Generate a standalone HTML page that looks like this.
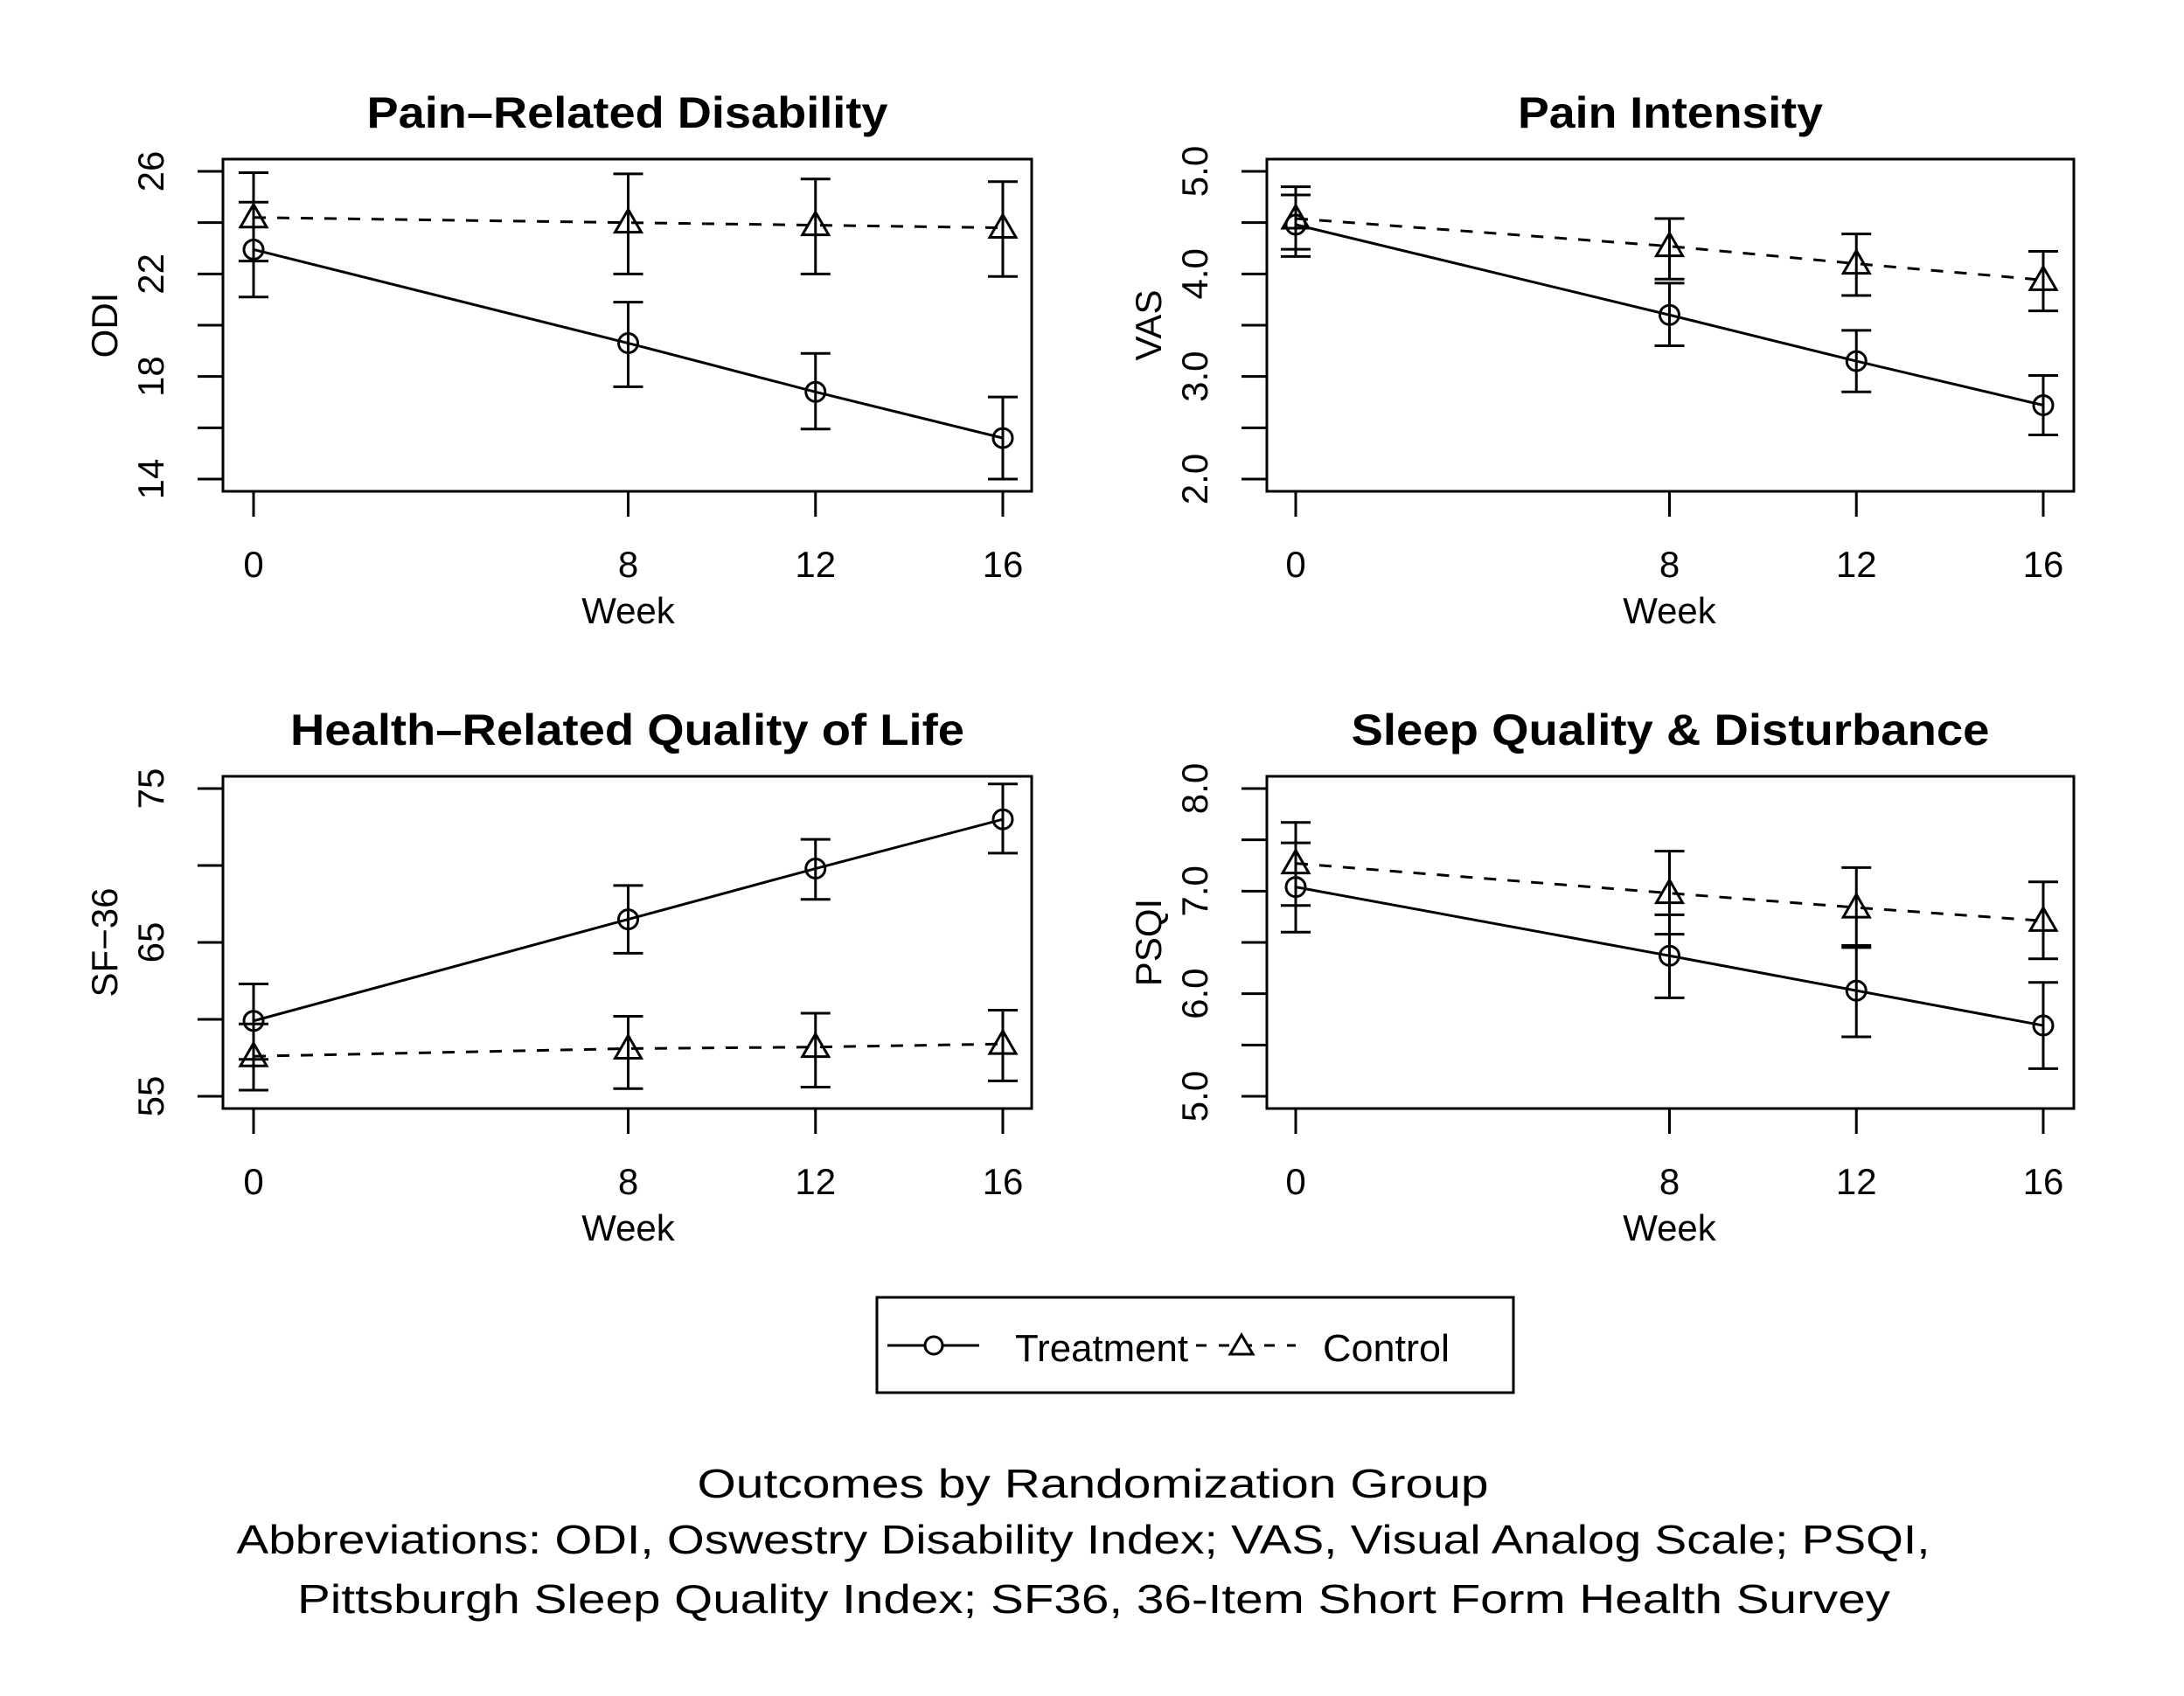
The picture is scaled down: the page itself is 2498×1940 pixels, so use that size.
<!DOCTYPE html>
<html><head><meta charset="utf-8"><style>
html,body{margin:0;padding:0;background:#fff;}
svg{display:block;}
text{font-family:"Liberation Sans",sans-serif;fill:#000;}
</style></head>
<body>
<svg id="chart" xmlns="http://www.w3.org/2000/svg" width="2498" height="1940" viewBox="0 0 2498 1940">
<rect width="2498" height="1940" fill="#fff"/>
<g id="panels"></g>
<g id="legend">
  <rect x="1003" y="1484" width="728" height="109" fill="none" stroke="#000" stroke-width="3"/>
  <line x1="1015" y1="1539" x2="1120" y2="1539" stroke="#000" stroke-width="3"/>
  <circle cx="1068" cy="1539" r="10" fill="#fff" stroke="#000" stroke-width="3"/>
  <text x="1161" y="1557" font-size="44" textLength="198" lengthAdjust="spacingAndGlyphs">Treatment</text>
  <line x1="1368" y1="1539" x2="1482" y2="1539" stroke="#000" stroke-width="3" stroke-dasharray="12,14"/>
  <path d="M1420,1527 L1433,1549 L1407,1549 Z" fill="#fff" stroke="#000" stroke-width="3"/>
  <text x="1513" y="1557" font-size="44" textLength="145" lengthAdjust="spacingAndGlyphs">Control</text>
</g>
<g>
  <text x="1250" y="1713" font-size="46" text-anchor="middle" textLength="905" lengthAdjust="spacingAndGlyphs">Outcomes by Randomization Group</text>
  <text x="1239" y="1777" font-size="46" text-anchor="middle" textLength="1937" lengthAdjust="spacingAndGlyphs">Abbreviations: ODI, Oswestry Disability Index; VAS, Visual Analog Scale; PSQI,</text>
  <text x="1251" y="1845" font-size="46" text-anchor="middle" textLength="1822" lengthAdjust="spacingAndGlyphs">Pittsburgh Sleep Quality Index; SF36, 36-Item Short Form Health Survey</text>
</g>
</svg>
<script>
const weeks = [0, 8, 12, 16];
const xTickLabels = ["0", "8", "12", "16"];
const titles = ["Pain\u2013Related Disability", "Pain Intensity", "Health\u2013Related Quality of Life", "Sleep Quality & Disturbance"];
const yLabels = ["ODI", "VAS", "SF\u221236", "PSQI"];
const odiTreatMean = [22.95, 19.3, 17.4, 15.6];
const odiTreatLo = [21.1, 17.6, 15.95, 14.0];
const odiTreatHi = [24.8, 20.9, 18.9, 17.2];
const odiCtrlMean = [24.2, 24.0, 23.9, 23.8];
const odiCtrlLo = [22.5, 22.0, 22.0, 21.9];
const odiCtrlHi = [25.95, 25.9, 25.7, 25.6];
const vasTreatMean = [4.48, 3.60, 3.15, 2.72];
const vasTreatLo = [4.24, 3.30, 2.85, 2.43];
const vasTreatHi = [4.77, 3.91, 3.45, 3.01];
const vasCtrlMean = [4.54, 4.27, 4.10, 3.94];
const vasCtrlLo = [4.17, 3.95, 3.79, 3.64];
const vasCtrlHi = [4.85, 4.54, 4.39, 4.22];
const sfTreatMean = [59.9, 66.5, 69.8, 73.0];
const sfTreatLo = [57.4, 64.3, 67.8, 70.8];
const sfTreatHi = [62.3, 68.7, 71.7, 75.3];
const sfCtrlMean = [57.6, 58.1, 58.2, 58.4];
const sfCtrlLo = [55.4, 55.5, 55.6, 56.0];
const sfCtrlHi = [59.7, 60.2, 60.4, 60.6];
const psqiTreatMean = [7.04, 6.37, 6.03, 5.69];
const psqiTreatLo = [6.60, 5.96, 5.58, 5.27];
const psqiTreatHi = [7.47, 6.77, 6.47, 6.11];
const psqiCtrlMean = [7.27, 6.98, 6.84, 6.71];
const psqiCtrlLo = [6.86, 6.58, 6.45, 6.34];
const psqiCtrlHi = [7.67, 7.39, 7.23, 7.09];
const yDomains = [[14, 26], [2, 5], [55, 75], [5, 8]];
const yTicks = [[14,16,18,20,22,24,26],[2,2.5,3,3.5,4,4.5,5],[55,60,65,70,75],[5,5.5,6,6.5,7,7.5,8]];
const yTickLabels = [["14","","18","","22","","26"],["2.0","","3.0","","4.0","","5.0"],["55","","65","","75"],["5.0","","6.0","","7.0","","8.0"]];

const series = [
  [[odiTreatMean,odiTreatLo,odiTreatHi],[odiCtrlMean,odiCtrlLo,odiCtrlHi]],
  [[vasTreatMean,vasTreatLo,vasTreatHi],[vasCtrlMean,vasCtrlLo,vasCtrlHi]],
  [[sfTreatMean,sfTreatLo,sfTreatHi],[sfCtrlMean,sfCtrlLo,sfCtrlHi]],
  [[psqiTreatMean,psqiTreatLo,psqiTreatHi],[psqiCtrlMean,psqiCtrlLo,psqiCtrlHi]]
];
const titleWidths = [596, 349, 771, 730];
const NS = "http://www.w3.org/2000/svg";
const root = document.getElementById("panels");
function mk(tag, attrs, parent) {
  const e = document.createElementNS(NS, tag);
  for (const k in attrs) e.setAttribute(k, attrs[k]);
  parent.appendChild(e);
  return e;
}
const slugs = ["odi", "vas", "sf36", "psqi"];
for (let p = 0; p < 4; p++) {
  const col = p % 2, row = Math.floor(p / 2);
  const L = col ? 1449 : 255, R = col ? 2372 : 1180;
  const x0 = col ? 1482 : 290, x16 = col ? 2337 : 1147;
  const off = row * 706;
  const T = 182 + off, B = 562 + off;
  const yT = 196 + off, yB = 548 + off;
  const [d0, d1] = yDomains[p];
  const xs = w => x0 + (w - weeks[0]) / (weeks[weeks.length-1] - weeks[0]) * (x16 - x0);
  const ys = v => yB - (v - d0) / (d1 - d0) * (yB - yT);
  const g = mk("g", {}, root);
  
  
  const cx = (L + R) / 2;
  const t = mk("text", {x: cx, y: 146 + off, "font-size": 50, "font-weight": "bold", "text-anchor": "middle", textLength: titleWidths[p], lengthAdjust: "spacingAndGlyphs"}, g);
  t.textContent = titles[p];
  
  
  const fr = mk("rect", {x: L, y: T, width: R - L, height: B - T, fill: "none", stroke: "#000", "stroke-width": 3}, g);
  
  
  // y ticks
  yTicks[p].forEach((v, i) => {
    const yy = ys(v);
    const tk = mk("line", {x1: L - 29, x2: L, y1: yy, y2: yy, stroke: "#000", "stroke-width": 3}, g);
    
    
    if (yTickLabels[p][i]) {
      const tl = mk("text", {x: 0, y: 0, "font-size": 42, "text-anchor": "middle", transform: `translate(${L - 68},${yy}) rotate(-90)`}, g);
      tl.textContent = yTickLabels[p][i];
      
      
    }
  });
  const yl = mk("text", {x: 0, y: 0, "font-size": 42, "text-anchor": "middle", transform: `translate(${L - 121},${(T + B) / 2}) rotate(-90)`}, g);
  yl.textContent = yLabels[p];
  
  
  // x ticks
  weeks.forEach((w, i) => {
    const xx = xs(w);
    const tk = mk("line", {x1: xx, x2: xx, y1: B, y2: B + 29, stroke: "#000", "stroke-width": 3}, g);
    
    
    const tl = mk("text", {x: xx, y: 660 + off, "font-size": 42, "text-anchor": "middle"}, g);
    tl.textContent = xTickLabels[i];
    
    
  });
  const xl = mk("text", {x: (x0 + x16) / 2, y: 713 + off, "font-size": 42, "text-anchor": "middle"}, g);
  xl.textContent = "Week";
  
  
  // series
  series[p].forEach((s, si) => {
    const [mean, lo, hi] = s;
    const sg = mk("g", {}, g);
    
    
    const pts = weeks.map((w, i) => xs(w) + "," + ys(mean[i])).join(" ");
    const pl = mk("polyline", {points: pts, fill: "none", stroke: "#000", "stroke-width": 3}, sg);
    if (si === 1) pl.setAttribute("stroke-dasharray", "14,13");
    
    
    weeks.forEach((w, i) => {
      const xx = xs(w), yl2 = ys(lo[i]), yh = ys(hi[i]);
      const eb = mk("path", {d: `M${xx},${yl2}L${xx},${yh}M${xx-17},${yl2}L${xx+17},${yl2}M${xx-17},${yh}L${xx+17},${yh}`, fill: "none", stroke: "#000", "stroke-width": 3}, sg);
      
      
      const ym = ys(mean[i]);
      let m;
      if (si === 0) {
        m = mk("circle", {cx: xx, cy: ym, r: 11, fill: "none", stroke: "#000", "stroke-width": 3}, sg);
      } else {
        m = mk("path", {d: `M${xx},${ym-15}L${xx+15},${ym+11}L${xx-15},${ym+11}Z`, fill: "none", stroke: "#000", "stroke-width": 3}, sg);
      }
      
      
    });
  });
}
</script>
</body></html>
